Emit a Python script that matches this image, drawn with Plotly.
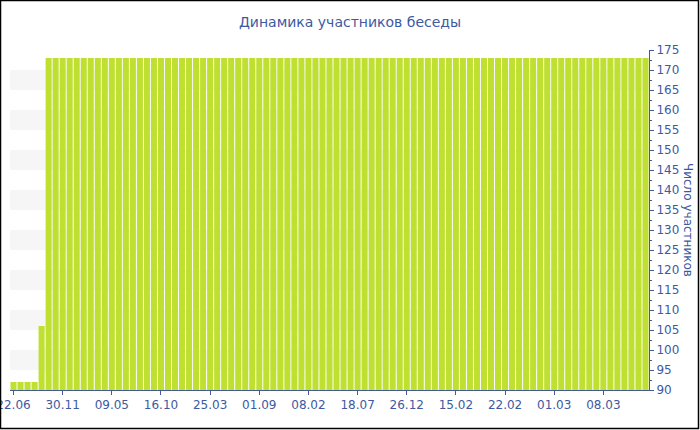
import plotly.graph_objects as go

# Data
tick_labels = ["22.06", "30.11", "09.05", "16.10", "25.03", "01.09", "08.02",
               "18.07", "26.12", "15.02", "22.02", "01.03", "08.03"]
label_step = 7
values = [92, 92, 92, 92, 106] + [173] * 86
positions = list(range(len(values)))
tick_positions = [i * label_step for i in range(len(tick_labels))]

BLUE = "#3d59a1"
AXIS = "#44589c"
BAR = "#bfe030"
FONT = "DejaVu Sans, Verdana, sans-serif"

fig = go.Figure()
fig.add_trace(go.Bar(x=positions, y=values, marker=dict(color=BAR, line=dict(width=0)),
                     hoverinfo="y"))

# plot area in pixels: x 10..649, y 50..390
L, R, T, B = 10, 51, 50, 40
W, H = 700, 430
pw, ph = W - L - R, H - T - B

shapes = []
# alternating light bands
for lo in range(95, 175, 10):
    shapes.append(dict(type="rect", xref="paper", yref="y", x0=0, x1=1, y0=lo, y1=lo + 5,
                       fillcolor="#f6f6f6", line=dict(width=0), layer="below"))
# outer border
def px_x(p):
    return (p - L) / pw
def px_y(p):
    return (H - B - p) / ph
shapes.append(dict(type="rect", xref="paper", yref="paper",
                   x0=px_x(0.5), x1=px_x(698.5), y0=px_y(428.5), y1=px_y(0.5),
                   line=dict(color="#000000", width=1.5), fillcolor="rgba(0,0,0,0)", layer="above"))

fig.update_layout(
    width=W, height=H,
    margin=dict(l=L, r=R, t=T, b=B, pad=0, autoexpand=False),
    paper_bgcolor="white", plot_bgcolor="white",
    bargap=0.14,
    showlegend=False,
    title=dict(text="Динамика участников беседы", x=0.5, xref="container", xanchor="center",
               y=1 - 22 / H, yref="container", yanchor="middle",
               font=dict(family=FONT, size=14, color=BLUE)),
    xaxis=dict(range=[-0.5, len(values) - 0.5], tickmode="array", tickvals=tick_positions,
               ticktext=tick_labels, showgrid=False, zeroline=False, showline=True,
               linecolor=AXIS, linewidth=1, ticks="outside", ticklen=4, tickcolor=AXIS,
               automargin=False, ticklabeloverflow="allow",
               tickfont=dict(family=FONT, size=12, color=BLUE), fixedrange=True),
    yaxis=dict(side="right", range=[90, 175], dtick=5, tick0=90, showgrid=False,
               zeroline=False, showline=True, linecolor=AXIS, linewidth=1,
               ticks="outside", ticklen=4, tickcolor=AXIS, automargin=False,
               ticklabeloverflow="allow",
               minor=dict(ticks="outside", ticklen=2, dtick=2.5, tickcolor=AXIS),
               tickfont=dict(family=FONT, size=12, color=BLUE), fixedrange=True),
    shapes=shapes,
    annotations=[dict(text="Число участников", xref="paper", yref="paper",
                      x=px_x(688), y=0.5, xanchor="center", yanchor="middle",
                      textangle=90, showarrow=False,
                      font=dict(family=FONT, size=12, color=BLUE))],
)

fig.write_html("out.html", config={"displayModeBar": False},
               post_script="document.body.style.margin='0';document.body.style.overflow='hidden';")
